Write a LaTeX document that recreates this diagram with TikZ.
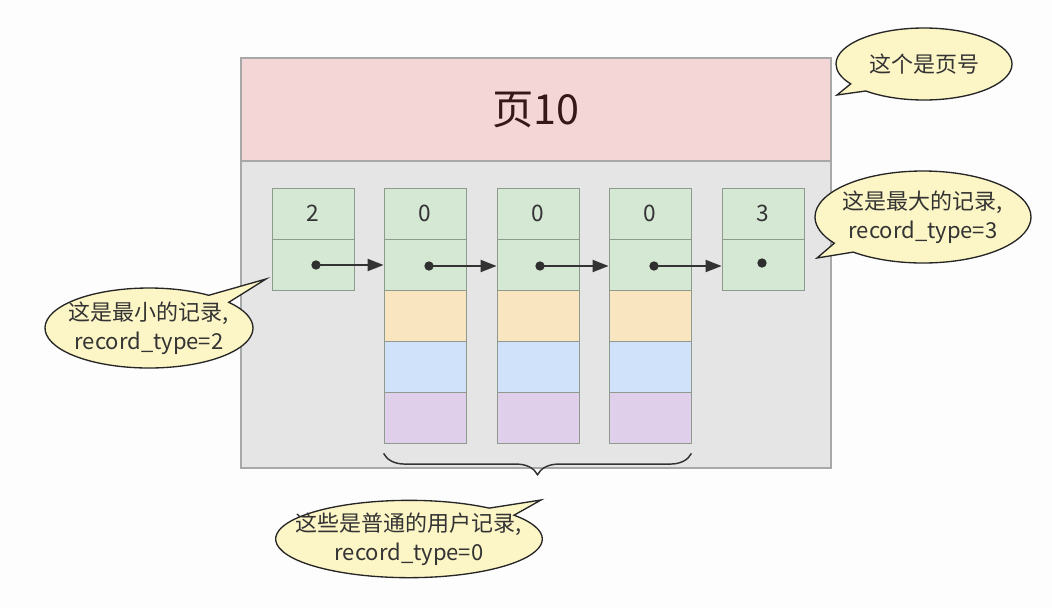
\documentclass[tikz,border=0pt]{standalone}
\usepackage{fontspec}
\setmainfont{Noto Sans CJK SC}
\usetikzlibrary{shapes.callouts,decorations.pathreplacing,arrows.meta}
\definecolor{bgwhite}{HTML}{FDFDFD}
\definecolor{hdrpink}{HTML}{F5D6D6}
\definecolor{bodygray}{HTML}{E5E5E5}
\definecolor{pageborder}{HTML}{A8A8A8}
\definecolor{cellgreen}{HTML}{D5E8D4}
\definecolor{cellorange}{HTML}{F9E5C0}
\definecolor{cellblue}{HTML}{D0E2F9}
\definecolor{cellpurple}{HTML}{E0CFEB}
\definecolor{cellborder}{HTML}{8E9A8E}
\definecolor{ink}{HTML}{333333}
\definecolor{calloutfill}{HTML}{FCF5C6}
\begin{document}
\begin{tikzpicture}[x=0.75pt,y=-0.75pt,
  pagepart/.style={draw=pageborder,line width=0.8pt,minimum width=442.5pt,inner sep=0pt},
  cell/.style={draw=cellborder,line width=0.6pt,minimum width=61.5pt,minimum height=38.25pt,inner sep=0pt,text=ink,font=\fontsize{17pt}{20pt}\selectfont},
  dotnode/.style={circle,fill=ink!90!black,inner sep=0pt,minimum size=7pt},
  linkarrow/.style={draw=ink,line width=1.4pt,-{Triangle[length=12pt,width=9pt]}},
  callout/.style={ellipse callout,draw=black!85,line width=1pt,fill=calloutfill,inner sep=0pt},
  callouttext/.style={align=center,text=ink,font=\fontsize{16.5pt}{22pt}\selectfont,inner sep=0pt},
  bracestyle/.style={draw=ink,line width=1.1pt,decorate,decoration={brace,mirror,amplitude=16pt}}
]
\path[use as bounding box,fill=bgwhite] (0,0) rectangle (1052,608);

% page
\node[pagepart,fill=hdrpink,minimum height=77.25pt,text=ink!80!red!60!black,font=\fontsize{31pt}{34pt}\selectfont] (hdr) at (536,109.5) {页10};
\node[pagepart,fill=bodygray,minimum height=230.25pt] (body) at (536,314.5) {};

% records
\foreach \i/\x/\v in {1/313/2,2/425/0,3/538/0,4/650/0,5/763/3}{
  \node[cell,fill=cellgreen] (k\i a) at (\x,213.5) {\v};
  \node[cell,fill=cellgreen] (k\i b) at (\x,264.5) {};
}
\foreach \i/\x in {2/425,3/538,4/650}{
  \node[cell,fill=cellorange] (k\i c) at (\x,315.5) {};
  \node[cell,fill=cellblue] (k\i d) at (\x,366.5) {};
  \node[cell,fill=cellpurple] (k\i e) at (\x,417.5) {};
}
\node[dotnode] (d1) at (316,265) {};
\node[dotnode] (d2) at (429,266) {};
\node[dotnode] (d3) at (540,266) {};
\node[dotnode] (d4) at (654,266) {};
\node[dotnode] (d5) at (762,263) {};
\draw[linkarrow] (d1.center) -- (d1.center -| k2b.west);
\draw[linkarrow] (d2.center) -- (d2.center -| k3b.west);
\draw[linkarrow] (d3.center) -- (d3.center -| k4b.west);
\draw[linkarrow] (d4.center) -- (d4.center -| k5b.west);

% brace
\draw[bracestyle] ([yshift=-7.5pt]k2e.south west) -- ([yshift=-7.5pt]k4e.south east);

% callout tips
\coordinate (tip1) at (837,95);
\coordinate (tip2) at (817,258);
\coordinate (tip3) at (266,279);
\coordinate (tip4) at (541,500);

% callouts
\node[callout,minimum width=132pt,minimum height=54pt,callout absolute pointer={(tip1)}] (c1) at (924,64) {};
\node[callouttext] (t1) at (c1.center) {这个是页号};

\node[callout,minimum width=162pt,minimum height=69pt,callout absolute pointer={(tip2)}] (c2) at (923,217) {};
\node[callouttext] (t2) at (c2.center) {这是最大的记录,\\record\_type=3};

\node[callout,minimum width=156pt,minimum height=60pt,callout absolute pointer={(tip3)}] (c3) at (149,328) {};
\node[callouttext] (t3) at (c3.center) {这是最小的记录,\\record\_type=2};

\node[callout,minimum width=200pt,minimum height=58pt,callout absolute pointer={(tip4)}] (c4) at (409,539) {};
\node[callouttext] (t4) at (c4.center) {这些是普通的用户记录,\\record\_type=0};
\end{tikzpicture}
\end{document}
